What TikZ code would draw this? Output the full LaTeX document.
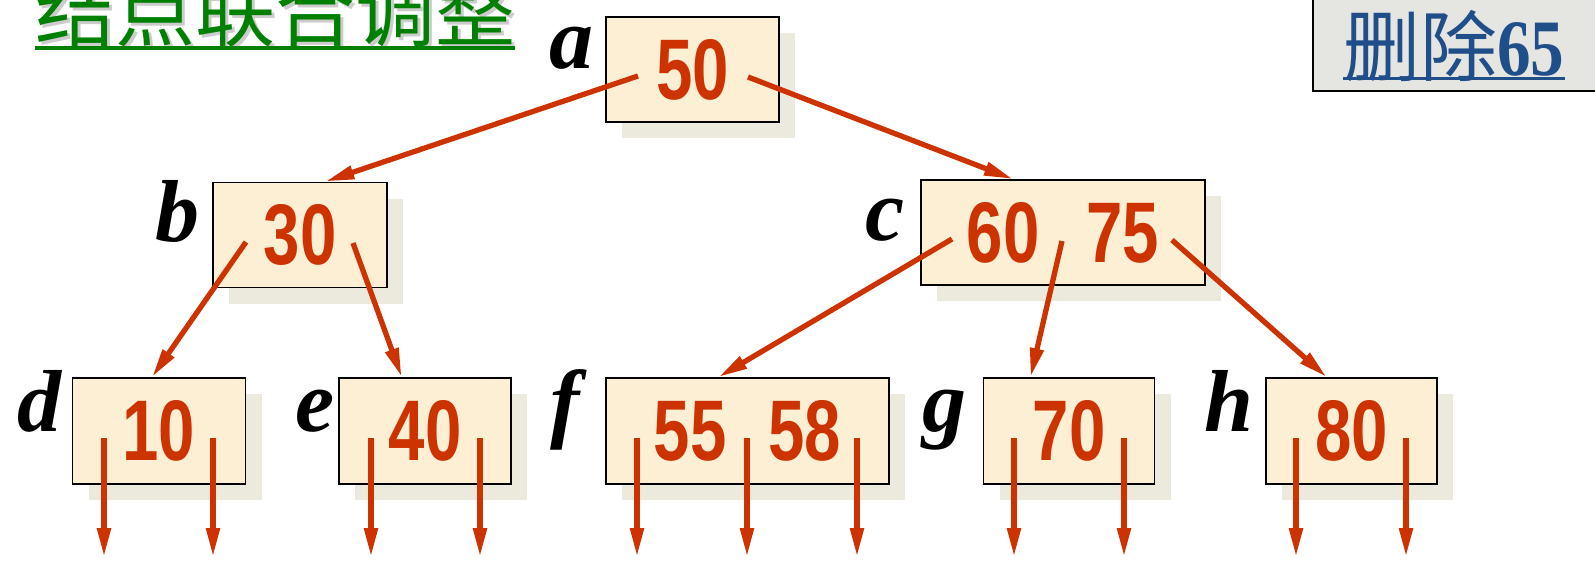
\documentclass[tikz,border=0pt]{standalone}
\usepackage{fontspec}
\setmainfont{Liberation Serif}
\newfontfamily\cjk{Noto Sans CJK SC}
\newfontfamily\keyfont{Liberation Sans}[FakeStretch=0.76]
\newfontfamily\delnumfont{Liberation Serif}[FakeStretch=0.84]
\usetikzlibrary{arrows.meta,shadows}
\definecolor{keyred}{RGB}{204,51,0}
\definecolor{nodecream}{RGB}{252,239,212}
\definecolor{shadowgrey}{RGB}{236,233,221}
\definecolor{titlegreen}{RGB}{0,128,0}
\definecolor{delblue}{RGB}{31,78,137}
\definecolor{delgrey}{RGB}{229,229,226}

\begin{document}
\begin{tikzpicture}[x=1pt, y=-1pt,
  bt/.style={draw, line width=1.8pt, fill=nodecream, inner sep=0pt,
    minimum height=105pt, text=keyred,
    font=\keyfont\bfseries\fontsize{86}{86}\selectfont,
    drop shadow={shadow xshift=16pt, shadow yshift=-16pt, fill=shadowgrey, opacity=1}},
  lbl/.style={anchor=base east, inner sep=0pt, font=\bfseries\itshape\fontsize{88}{88}\selectfont},
  ptr/.style={draw=keyred, line width=5.3pt, -{Triangle[length=29pt, width=13pt]}}
]
  \useasboundingbox (0,0) rectangle (1595,563);

  \node[anchor=base west, inner sep=0pt, text=black!20, font=\cjk\fontsize{80}{80}\selectfont] (titleshd) at (38,43) {结点联合调整};
  \node[anchor=base west, inner sep=0pt, text=titlegreen, font=\cjk\fontsize{80}{80}\selectfont] (title) at (35,40) {结点联合调整};
  \draw[titlegreen, line width=3.8pt] ([yshift=-7.8pt]title.base west) -- ([yshift=-7.8pt]title.base east);

  \node[draw, line width=1.8pt, fill=delgrey, minimum width=300pt, minimum height=110pt, anchor=south west] (delbox) at (1312,91.7) {};
  \node[anchor=base west, inner sep=0pt, text=delblue] (deltext) at (1343,75)
    {{\cjk\fontsize{77}{77}\selectfont 删除}{\delnumfont\bfseries\fontsize{80}{80}\selectfont 65}};
  \draw[delblue, line width=3pt] ([yshift=-3.3pt]deltext.base west) -- ([yshift=-3.3pt]deltext.base east);

  \node[bt, minimum width=173pt] (a) at (692.5,69.5) {50};
  \node[bt, minimum width=174pt] (b) at (300.3,235) {30};
  \node[bt, minimum width=284pt] (c) at (1063,232.5) {60\hspace{47pt}75};
  \node[bt, minimum width=173pt, minimum height=106pt] (d) at (159,431) {10};
  \node[bt, minimum width=172pt, minimum height=106pt] (e) at (425.2,431) {40};
  \node[bt, minimum width=283pt, minimum height=106pt] (f) at (747.5,431) {55\hspace{42pt}58};
  \node[bt, minimum width=171pt, minimum height=106pt] (g) at (1069,431) {70};
  \node[bt, minimum width=171pt, minimum height=106pt] (h) at (1351.7,431) {80};

  \node[lbl] (la) at (594,68) {a};
  \node[lbl] (lb) at (200,241.7) {b};
  \node[lbl] (lc) at (905,240) {c};
  \node[lbl] (ld) at (62,431.7) {d};
  \node[lbl] (le) at (335,431.7) {e};
  \node[lbl] (lf) at (580,431.7) {f};
  \node[lbl] (lg) at (967,431.7) {g};
  \node[lbl] (lh) at (1254,431.7) {h};

  \coordinate (a-p0) at (638,76);
  \coordinate (a-p1) at (748,77);
  \coordinate (b-p0) at (246,242);
  \coordinate (b-p1) at (353,243);
  \coordinate (c-p0) at (952,239);
  \coordinate (c-p1) at (1062,241);
  \coordinate (c-p2) at (1172,240);

  \draw[ptr] (a-p0) -- ([xshift=25pt]b.north);
  \draw[ptr] (a-p1) -- ([xshift=-50pt]c.north);
  \draw[ptr] (b-p0) -- ([xshift=-7pt]d.north);
  \draw[ptr] (b-p1) -- ([xshift=-23.5pt]e.north);
  \draw[ptr] (c-p0) -- ([xshift=-29pt]f.north);
  \draw[ptr] (c-p1) -- ([xshift=-38.5pt]g.north);
  \draw[ptr] (c-p2) -- ([xshift=-25pt]h.north);

  \foreach \px/\nm in {104/d0, 213/d1, 371/e0, 480/e1, 637/f0, 747/f1, 857/f2,
                       1014/g0, 1124/g1, 1296/h0, 1406/h1} {
    \coordinate (\nm-top) at (\px,438);
    \coordinate (\nm-end) at (\px,557);
    \draw[ptr] (\nm-top) -- (\nm-end);
  }
\end{tikzpicture}
\end{document}
